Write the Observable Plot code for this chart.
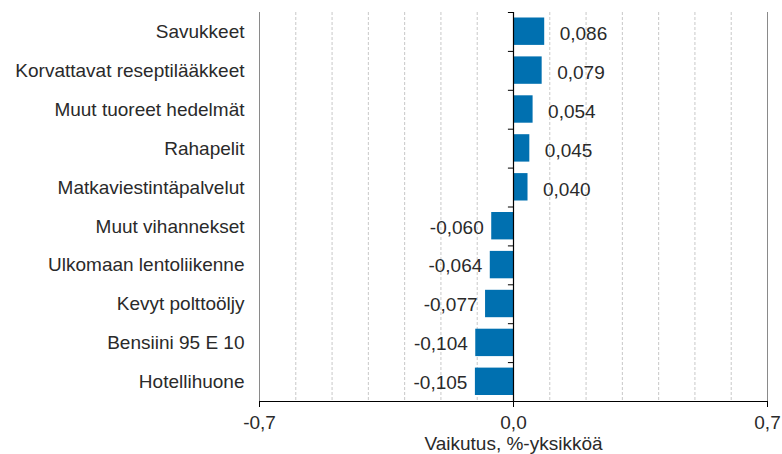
<!DOCTYPE html>
<html>
<head>
<meta charset="utf-8">
<script src="https://cdn.jsdelivr.net/npm/d3@7"></script>
<script src="https://cdn.jsdelivr.net/npm/@observablehq/plot@0.6"></script>
<style>
  html, body { margin: 0; padding: 0; background: #fff; }
</style>
</head>
<body>
<div id="chart"></div>
<script>
const categories = [
  "Savukkeet",
  "Korvattavat reseptilääkkeet",
  "Muut tuoreet hedelmät",
  "Rahapelit",
  "Matkaviestintäpalvelut",
  "Muut vihannekset",
  "Ulkomaan lentoliikenne",
  "Kevyt polttoöljy",
  "Bensiini 95 E 10",
  "Hotellihuone"
];
const values = [0.086, 0.079, 0.054, 0.045, 0.040, -0.060, -0.064, -0.077, -0.104, -0.105];
const xTicks = [-0.7, 0, 0.7];
const gridValues = [-0.6, -0.5, -0.4, -0.3, -0.2, -0.1, 0.1, 0.2, 0.3, 0.4, 0.5, 0.6];
const xLabel = "Vaikutus, %-yksikköä";

const data = categories.map((c, i) => ({category: c, value: values[i]}));
const fmt = v => (v < 0 ? "-" : "") + Math.abs(v).toFixed(3).replace(".", ",");
const fmtTick = v => (v < 0 ? "-" : "") + Math.abs(v).toFixed(1).replace(".", ",");

const W = 782, H = 454, mT = 12, mB = 53, mL = 259, mR = 15;
const band = (H - mT - mB) / categories.length;

const chart = Plot.plot({
  width: W,
  height: H,
  marginTop: mT,
  marginBottom: mB,
  marginLeft: mL,
  marginRight: mR,
  style: {fontFamily: "'Liberation Sans', Arial, sans-serif", fontSize: "19px", color: "#2a2a2a", background: "#fff"},
  x: {domain: [-0.7, 0.7]},
  y: {domain: categories, paddingInner: 0, paddingOuter: 0, round: false},
  marks: [
    Plot.ruleX(gridValues, {stroke: "#c8c8c8", strokeDasharray: "3,2", strokeWidth: 1}),
    Plot.ruleX([-0.7, 0.7], {stroke: "#8a8a8a", strokeWidth: 1}),
    Plot.barX(data, {y: "category", x: "value", fill: "#0070b0", insetTop: 5.5, insetBottom: 6}),
    Plot.ruleX([0], {stroke: "#000", strokeWidth: 1.2}),
    Plot.ruleY(categories, {y: d => d, x1: -0.014, x2: 0, dy: -band / 2, stroke: "#000"}),
    Plot.ruleY([categories[categories.length - 1]], {y: d => d, x1: -0.7, x2: 0.7, dy: band / 2, stroke: "#000"}),
    Plot.text(data.filter(d => d.value >= 0), {y: "category", x: "value", text: d => fmt(d.value), textAnchor: "start", dx: 15, dy: 2, fill: "#2a2a2a"}),
    Plot.text(data.filter(d => d.value < 0), {y: "category", x: "value", text: d => fmt(d.value), textAnchor: "end", dx: -8, dy: 1, fill: "#2a2a2a"}),
    Plot.axisY({tickSize: 0, tickPadding: 15, label: null, fill: "#2a2a2a"}),
    Plot.axisX({ticks: xTicks, tickFormat: fmtTick, tickSize: 6, tickPadding: 8, label: xLabel, labelAnchor: "center", labelArrow: "none", labelOffset: 48, stroke: "#000", fill: "#2a2a2a"})
  ]
});
document.getElementById("chart").appendChild(chart);
</script>
</body>
</html>
